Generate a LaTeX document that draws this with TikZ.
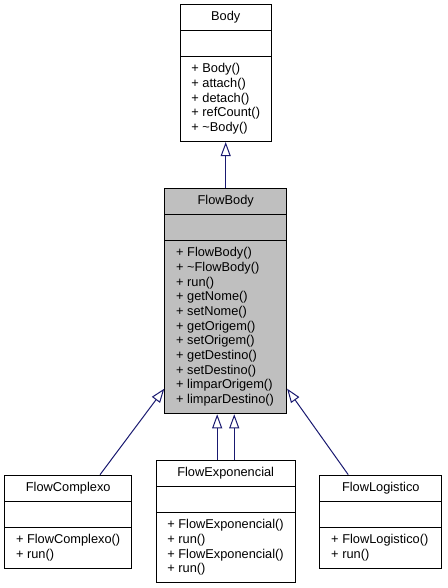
\documentclass[tikz,border=0pt]{standalone}
\usepackage{fontspec}
\setmainfont{Liberation Sans}
\usetikzlibrary{shapes.multipart,arrows.meta,positioning}
\definecolor{edgeblue}{HTML}{191970}
\definecolor{grey75}{HTML}{BFBFBF}

\tikzstyle{cls} = [rectangle split, rectangle split parts=3, rectangle split part align={center,left,left}, draw, line width=0.8pt, fill=white, inner xsep=8.5pt, inner ysep=3.9pt, font=\fontsize{9.6}{11}\selectfont, align=left]
\tikzstyle{inh} = [draw=edgeblue, line width=0.75pt, -{Triangle[open,length=10.5pt,width=7.5pt]}]
\newcommand{\op}[1]{+ #1\strut}

\begin{document}
\begin{tikzpicture}[auto, x=0.75pt, y=-0.75pt]
\useasboundingbox (0,0) rectangle (447,588);
\node [cls, minimum width=68pt] (body) at (225.7,73) {Body\strut
  \nodepart{two}\strut
  \nodepart{three}\op{Body()}\\ \op{attach()}\\ \op{detach()}\\ \op{refCount()}\\ \op{\textasciitilde Body()}};
\node [cls, fill=grey75, minimum width=91.3pt, below of=body, node distance=171.15pt] (fbody) {FlowBody\strut
  \nodepart{two}\strut
  \nodepart{three}\op{FlowBody()}\\ \op{\textasciitilde FlowBody()}\\ \op{run()}\\ \op{getNome()}\\ \op{setNome()}\\ \op{getOrigem()}\\ \op{setOrigem()}\\ \op{getDestino()}\\ \op{setDestino()}\\ \op{limparOrigem()}\\ \op{limparDestino()}};
\node [cls, minimum width=104.5pt, below of=fbody, node distance=165.4pt] (fexp) {FlowExponencial\strut
  \nodepart{two}\strut
  \nodepart{three}\op{FlowExponencial()}\\ \op{run()}\\ \op{FlowExponencial()}\\ \op{run()}};
\node [cls, minimum width=95.3pt, left of=fexp, node distance=118.1pt] (fcomp) {FlowComplexo\strut
  \nodepart{two}\strut
  \nodepart{three}\op{FlowComplexo()}\\ \op{run()}};
\node [cls, minimum width=91.3pt, right of=fexp, node distance=116.3pt] (flog) {FlowLogistico\strut
  \nodepart{two}\strut
  \nodepart{three}\op{FlowLogistico()}\\ \op{run()}};
\draw [inh] (fbody) -- (body);
\draw [inh] ([xshift=23.85pt]fcomp.north) -- ([yshift=19.2pt]fbody.south west);
\draw [inh] ([xshift=-6.4pt]fexp.north) -- ([xshift=-6.4pt]fbody.south);
\draw [inh] ([xshift=6.4pt]fexp.north) -- ([xshift=6.4pt]fbody.south);
\draw [inh] ([xshift=-24.4pt]flog.north) -- ([yshift=19.2pt]fbody.south east);
\end{tikzpicture}
\end{document}
